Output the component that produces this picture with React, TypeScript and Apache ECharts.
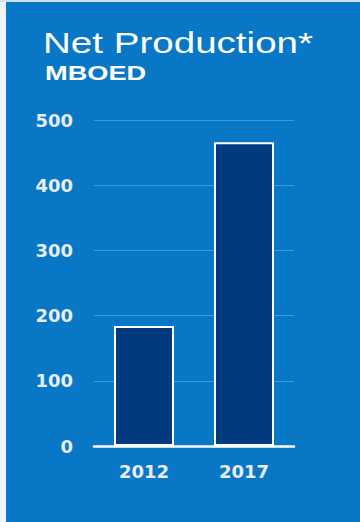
import React, { useEffect, useRef } from "react";
import * as echarts from "echarts";

const categories = ["2012", "2017"];
const netProduction = [184, 466];
const yTicks = [0, 100, 200, 300, 400, 500];
const titleText = "Net Production*";
const subtitleText = "MBOED";

export default function App() {
  const ref = useRef<HTMLDivElement>(null);
  useEffect(() => {
    document.body.style.margin = "0";
    const chart = echarts.init(ref.current!, null, { renderer: "svg" });
    chart.setOption({
      animation: false,
      backgroundColor: "#0878c6",
      graphic: [
        { type: "rect", shape: { x: 0, y: 0, width: 6, height: 522 }, style: { fill: "#eef3f8" } },
        { type: "rect", shape: { x: 0, y: 0, width: 360, height: 2 }, style: { fill: "#cfe3f3" } },
        {
          type: "text",
          x: 43,
          y: 43,
          scaleX: 1.33,
          style: {
            text: titleText,
            fill: "#ffffff",
            fontFamily: "Liberation Sans",
            fontSize: 29,
            verticalAlign: "middle",
            align: "left",
          },
        },
        {
          type: "text",
          x: 45,
          y: 73,
          scaleX: 1.36,
          style: {
            text: subtitleText,
            fill: "#ffffff",
            fontFamily: "Liberation Sans",
            fontWeight: "bold",
            fontSize: 20,
            verticalAlign: "middle",
            align: "left",
          },
        },
      ],
      grid: { left: 94, right: 66, top: 120, bottom: 76 },
      xAxis: {
        type: "category",
        data: categories,
        axisLine: { show: true, lineStyle: { color: "#ffffff", width: 2.5 } },
        axisTick: { show: false },
        axisLabel: {
          color: "#e6edf5",
          fontFamily: "DejaVu Sans",
          fontWeight: "bold",
          fontSize: 18,
          margin: 16,
        },
      },
      yAxis: {
        type: "value",
        min: 0,
        max: yTicks[yTicks.length - 1],
        interval: yTicks[1] - yTicks[0],
        axisLine: { show: false },
        axisTick: { show: false },
        splitLine: { show: true, lineStyle: { color: "#3d9ad8", width: 1 } },
        axisLabel: {
          color: "#e6edf5",
          fontFamily: "DejaVu Sans",
          fontWeight: "bold",
          fontSize: 18,
          margin: 21,
        },
      },
      series: [
        {
          type: "bar",
          data: netProduction,
          barWidth: 60,
          itemStyle: { color: "#023b7d", borderColor: "#ffffff", borderWidth: 2 },
        },
      ],
    });
    return () => chart.dispose();
  }, []);
  return <div ref={ref} style={{ width: 360, height: 522 }} />;
}
